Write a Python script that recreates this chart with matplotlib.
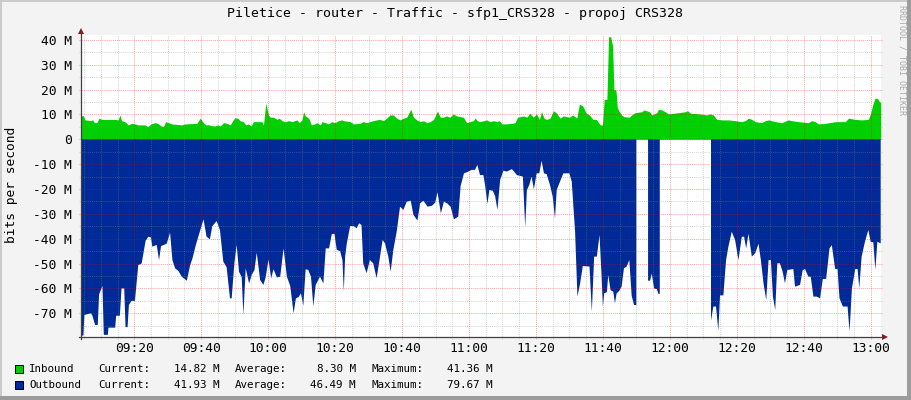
import numpy as np
import matplotlib
matplotlib.use('Agg')
import matplotlib.pyplot as plt
from matplotlib.patches import Rectangle

# ---------------- data (minutes after 09:00, values in Mbit/s) ----------------
in_t = [4.0, 4.8, 5.3, 7.3, 7.5, 8.1, 8.8, 9.5, 10.3, 14.3, 15.2, 15.7, 16.2, 17.2, 18.2, 19.2,
        20.2, 21.2, 23.2, 24.0, 25.0, 26.2, 27.0, 28.0, 28.7, 29.4, 30.2, 31.2, 34.2, 35.2,
        38.7, 39.7, 40.4, 41.4, 42.4, 43.4, 44.2, 45.0, 45.7, 46.7, 47.7, 48.7, 49.4, 50.1,
        50.9, 51.6, 52.6, 53.3, 54.1, 54.9, 55.6, 58.1, 58.6, 59.3, 60.1, 60.6, 61.6, 62.6,
        63.3, 64.1, 65.1, 66.1, 67.1, 68.6, 69.3, 70.1, 70.6, 71.1, 72.1, 72.9, 73.9, 74.6,
        75.6, 76.1, 77.1, 78.0, 79.0, 80.0, 81.0, 82.0, 82.5, 84.5, 85.5, 87.4, 88.4, 89.4,
        90.4, 91.4, 92.4, 93.4, 94.4, 95.4, 96.4, 97.4, 98.4, 99.4, 100.4, 101.4, 102.6,
        103.4, 104.4, 105.4, 106.4, 107.4, 108.4, 109.4, 110.6, 111.4, 112.3, 113.3, 114.3,
        115.3, 116.3, 118.3, 119.3, 120.3, 121.3, 121.8, 122.5, 123.3, 125.3, 126.3, 127.3,
        128.3, 129.1, 129.8, 130.8, 132.8, 133.8, 134.5, 135.3, 136.3, 137.3, 138.2, 139.2,
        140.2, 141.0, 141.7, 142.4, 143.2, 144.2, 145.2, 146.2, 147.2, 148.2, 150.0, 151.0,
        152.2, 153.0, 154.0, 155.0, 156.0, 157.0, 158.0, 159.2, 159.9, 160.4, 161.2, 161.7,
        162.3, 162.9, 163.3, 163.9, 164.3, 164.9, 165.6, 166.3, 167.9, 168.6, 169.6, 171.6,
        172.3, 173.9, 174.6, 176.1, 176.6, 177.6, 178.6, 179.6, 182.6, 184.6, 185.3, 186.1,
        189.0, 191.0, 192.0, 193.0, 194.0, 195.8, 197.5, 199.5, 201.5, 202.5, 203.5, 204.5,
        205.5, 207.5, 208.5, 209.5, 211.5, 213.4, 215.4, 216.4, 218.4, 221.4, 222.4, 223.4,
        224.4, 226.4, 229.4, 232.4, 233.4, 235.4, 237.3, 239.3, 240.0, 240.6, 241.3, 242.0,
        242.6, 243.0]
in_v = [9.5, 9.5, 7.8, 7.5, 8.0, 6.7, 6.7, 8.5, 8.0, 8.0, 7.8, 9.8, 7.5, 7.1, 5.8, 6.4,
        6.2, 5.8, 5.8, 5.1, 6.2, 6.7, 6.4, 5.4, 5.1, 7.1, 6.7, 6.2, 5.8, 6.2,
        6.4, 8.5, 7.1, 5.8, 5.8, 5.4, 5.4, 5.8, 5.4, 6.7, 6.4, 5.8, 7.5, 8.7,
        8.5, 7.5, 7.1, 5.8, 6.2, 5.4, 7.1, 7.1, 5.8, 14.5, 9.8, 8.9, 8.9, 8.0,
        8.5, 7.5, 7.1, 7.5, 7.1, 7.8, 6.7, 7.8, 11.1, 9.4, 8.5, 5.8, 6.2, 6.7,
        5.8, 7.1, 6.7, 6.2, 7.1, 6.7, 7.5, 7.8, 7.5, 7.1, 6.2, 6.4, 7.1, 6.7,
        7.1, 7.5, 7.8, 8.0, 7.5, 8.5, 9.8, 9.8, 8.5, 7.8, 8.5, 8.9, 12.1,
        8.9, 7.8, 7.1, 7.5, 6.7, 7.1, 8.0, 11.4, 8.9, 8.9, 9.4, 8.9,
        10.2, 9.4, 8.9, 6.7, 7.1, 7.5, 8.5, 7.5, 7.1, 7.8, 7.1, 7.5,
        7.1, 7.5, 6.2, 6.2, 6.4, 6.7, 8.9, 9.1, 9.4, 8.9, 10.5, 8.9,
        10.2, 8.0, 11.1, 8.5, 8.0, 8.5, 11.5, 10.5, 8.5, 9.4, 8.9, 9.8,
        8.5, 14.2, 13.4, 10.5, 9.8, 8.0, 8.0, 5.8, 5.8, 16.1, 16.1, 41.3,
        41.3, 37.6, 19.9, 19.9, 12.9, 11.1, 9.8, 9.1, 8.9, 9.8, 10.7, 11.1,
        11.8, 11.1, 9.8, 10.7, 12.1, 11.8, 11.1, 10.2, 10.7, 11.1, 11.5, 10.5,
        10.2, 9.8, 10.2, 9.8, 8.0, 7.8, 7.8, 7.5, 7.1, 7.5, 8.5, 8.0,
        7.1, 6.7, 7.5, 7.8, 7.1, 6.7, 7.8, 7.5, 7.1, 6.7, 7.5, 7.1,
        6.2, 6.4, 7.1, 7.1, 8.5, 8.0, 7.8, 8.0, 10.5, 13.8, 16.5, 16.5,
        15.2, 14.8]

out_t = [4.0, 4.8, 5.1, 7.1, 7.5, 8.3, 9.1, 9.5, 10.5, 10.9, 12.1, 12.3, 14.3, 14.6, 15.7,
         16.2, 17.0, 17.4, 18.0, 18.4, 19.2, 20.2, 21.2, 22.2, 23.4, 24.2, 25.0, 25.4, 26.7,
         27.4, 28.0, 29.7, 30.7, 31.4, 32.2, 33.2, 34.2, 35.7, 36.7, 37.4, 38.4, 39.4, 40.7,
         41.6, 42.6, 43.3, 44.6, 45.6, 46.6, 47.6, 48.6, 49.1, 49.9, 50.6, 51.3, 52.1, 52.6,
         53.3, 54.3, 55.1, 55.9, 56.6, 57.6, 58.6, 59.3, 60.1, 60.9, 61.6, 62.6, 63.6, 64.6,
         65.6, 66.6, 67.6, 68.3, 69.1, 69.8, 70.5, 71.2, 72.0, 72.8, 73.5, 74.2, 75.5, 76.5,
         77.2, 78.2, 79.0, 79.8, 80.5, 81.5, 82.2, 82.6, 83.0, 83.5, 84.5, 85.5, 86.4, 87.2,
         87.9, 88.4, 89.4, 90.4, 91.4, 92.4, 93.2, 94.2, 94.9, 95.9, 96.6, 97.4, 98.4, 99.4,
         100.4, 101.4, 102.6, 103.4, 104.6, 105.4, 106.4, 107.6, 108.9, 109.9, 110.6, 111.6,
         112.5, 113.5, 114.5, 115.5, 116.8, 117.5, 118.5, 119.8, 120.8, 121.8, 122.5, 123.3,
         124.3, 124.8, 125.5, 126.1, 127.1, 127.8, 128.5, 129.3, 130.3, 131.3, 132.8, 133.5,
         134.3, 136.1, 136.8, 137.3, 138.0, 138.7, 139.4, 140.2, 141.0, 141.7, 142.4, 143.2,
         144.2, 145.0, 145.7, 146.2, 147.2, 148.2, 150.0, 150.7, 151.7, 152.4, 153.2, 154.0,
         156.0, 156.7, 157.4, 158.2, 159.0, 159.6, 160.0, 160.4, 161.2, 161.6, 162.3, 163.1,
         163.6, 164.1, 164.9, 165.6, 166.3, 167.1, 167.9, 168.6, 169.3, 170.0, 170.1,
         173.5, 174.1, 174.6, 175.3, 176.1, 176.6, 177.0, 177.1,
         192.3, 193.0, 193.8, 194.5, 195.0, 196.0, 196.8, 197.5, 198.5, 199.5, 200.5, 201.5,
         202.2, 202.8, 203.5, 204.5, 205.5, 206.5, 207.2, 208.0, 208.8, 209.5, 210.2, 210.8,
         211.5, 212.1, 212.9, 213.7, 214.4, 215.1, 216.9, 217.4, 218.9, 219.7, 220.4, 221.4,
         222.1, 222.9, 223.9, 224.9, 225.7, 226.7, 227.7, 228.4, 229.4, 230.1, 230.7, 231.7,
         233.1, 233.7, 234.4, 235.4, 236.1, 236.6, 237.3, 238.3, 239.3, 240.0, 240.8, 241.4,
         242.0, 243.0]
out_v = [79.0, 79.0, 70.7, 70.0, 71.0, 74.7, 74.7, 62.4, 59.0, 78.7, 78.7, 75.8, 75.8, 71.0, 71.0,
         60.0, 60.0, 75.6, 75.6, 66.7, 65.0, 65.0, 50.6, 50.0, 40.8, 39.2, 39.5, 43.2, 42.5,
         48.6, 43.0, 42.0, 37.6, 48.6, 51.9, 53.0, 55.3, 56.9, 50.6, 47.9, 42.5, 38.0, 32.2,
         39.2, 40.2, 35.0, 32.9, 36.5, 49.2, 51.5, 64.0, 64.0, 50.0, 42.5, 53.3, 55.5, 70.7,
         51.9, 58.0, 54.6, 52.6, 45.6, 56.6, 58.6, 55.3, 48.3, 56.0, 52.3, 55.6, 55.3, 43.9,
         55.3, 59.0, 70.0, 64.0, 63.5, 62.0, 67.0, 52.3, 52.6, 55.3, 67.3, 58.6, 55.3, 58.0,
         43.9, 43.9, 38.2, 38.0, 44.5, 45.0, 48.6, 61.3, 47.2, 41.9, 34.9, 34.9, 35.8, 33.8,
         34.5, 49.9, 53.9, 48.6, 49.9, 55.9, 49.2, 40.5, 41.9, 47.2, 53.3, 44.5, 37.2, 27.1,
         28.4, 25.1, 24.7, 30.4, 32.7, 25.8, 24.7, 27.1, 26.8, 25.5, 21.3, 29.8,
         25.1, 25.8, 27.1, 32.2, 31.1, 18.8, 13.7, 13.0, 12.3, 12.3, 10.3, 14.4,
         14.4, 18.4, 26.0, 20.4, 20.7, 22.8, 28.4, 16.4, 12.6, 13.0, 12.0, 13.0,
         14.4, 15.0, 35.4, 20.4, 18.4, 15.0, 20.1, 13.7, 13.7, 8.6, 13.7, 14.0,
         18.4, 23.0, 31.8, 20.4, 17.0, 13.7, 13.7, 17.0, 37.2, 63.3, 58.0, 51.0,
         51.2, 69.3, 47.2, 47.2, 38.5, 54.6, 67.3, 62.0, 61.5, 54.6, 60.7, 61.3,
         66.0, 62.0, 61.0, 59.3, 51.9, 51.2, 48.6, 62.9, 66.7, 66.7, np.nan,
         56.9, 56.9, 54.0, 60.0, 60.3, 62.2, 62.2, np.nan,
         73.0, 67.3, 67.3, 77.0, 62.8, 62.8, 48.6, 43.2, 37.2, 40.5, 48.6, 39.2,
         39.2, 43.9, 38.0, 47.2, 45.9, 42.0, 48.6, 58.0, 64.7, 48.6, 48.6, 63.3,
         68.7, 49.9, 49.9, 53.3, 58.0, 52.6, 52.2, 59.3, 58.6, 52.6, 52.2, 55.3,
         55.3, 63.3, 63.3, 64.0, 56.2, 56.2, 43.9, 42.6, 52.2, 52.2, 64.0, 67.3,
         67.3, 77.4, 60.0, 52.2, 52.2, 60.0, 47.2, 41.2, 36.5, 41.2, 41.5, 52.6,
         41.2, 41.9]

x_major = [20, 40, 60, 80, 100, 120, 140, 160, 180, 200, 220, 240]
x_labels = ["09:20", "09:40", "10:00", "10:20", "10:40", "11:00", "11:20", "11:40",
            "12:00", "12:20", "12:40", "13:00"]
y_major = [-70, -60, -50, -40, -30, -20, -10, 0, 10, 20, 30, 40]
y_labels = ["-70 M", "-60 M", "-50 M", "-40 M", "-30 M", "-20 M", "-10 M", "0",
            "10 M", "20 M", "30 M", "40 M"]

series_names = ["Inbound", "Outbound"]
current = ["14.82 M", "41.93 M"]
average = ["8.30 M", "46.49 M"]
maximum = ["41.36 M", "79.67 M"]

title = "Piletice - router - Traffic - sfp1_CRS328 - propoj CRS328"

# ---------------- drawing ----------------
W, H = 911, 400
GREEN = '#00CF00'
BLUE = '#002A97'
MONO = 'DejaVu Sans Mono'

fig = plt.figure(figsize=(W / 100, H / 100), dpi=100, facecolor='#F3F3F3')

# frame shading
fig.add_artist(Rectangle((0, 0), 2 / W, 1, transform=fig.transFigure, fc='#CBCBCB', lw=0))
fig.add_artist(Rectangle((0, 1 - 2 / H), 1, 2 / H, transform=fig.transFigure, fc='#CBCBCB', lw=0))
fig.add_artist(Rectangle((1 - 4 / W, 0), 4 / W, 1, transform=fig.transFigure, fc='#9C9C9C', lw=0))
fig.add_artist(Rectangle((0, 0), 1, 4 / H, transform=fig.transFigure, fc='#9C9C9C', lw=0))

L, R, T, B = 80.7, 880.7, 35.0, 337.0
ax = fig.add_axes([L / W, 1 - B / H, (R - L) / W, (B - T) / H])
ax.set_facecolor('white')
x0, x1 = 4.0, 243.0
y0, y1 = -79.56, 41.97
ax.set_xlim(x0, x1)
ax.set_ylim(y0, y1)
for s in ax.spines.values():
    s.set_visible(False)

in_t_a = np.array(in_t)
in_v_a = np.array(in_v)
out_t_a = np.array(out_t)
out_v_a = -np.array(out_v, dtype=float)
ax.fill_between(in_t_a, 0, in_v_a, color=GREEN, lw=0, zorder=1)
ax.fill_between(out_t_a, 0, out_v_a, color=BLUE, lw=0, zorder=1)

dx = (x1 - x0) / (R - L)  # data per pixel
dy = (y1 - y0) / (B - T)
dash = (0, (1.0, 1.0))
minor_c = (0.55, 0.55, 0.55, 0.35)
major_c = (1.0, 0.0, 0.0, 0.35)
for xm in range(5, 243, 5):
    c = major_c if xm in x_major else minor_c
    ax.plot([xm, xm], [y0 - 2 * dy, y1], color=c, lw=0.75, ls=dash, clip_on=False, zorder=2)
for ym in range(-75, 45, 5):
    c = major_c if ym in y_major else minor_c
    ax.plot([x0 - 2 * dx, x1 + 2 * dx], [ym, ym], color=c, lw=0.75, ls=dash, clip_on=False, zorder=2)

# axes lines + arrows
ax.plot([x0, x0], [y0 - 2 * dy, y1 + 3 * dy], color='#404040', lw=0.9, clip_on=False, zorder=3)
ax.plot([x0 - 2 * dx, x1 + 4 * dx], [y0, y0], color='#404040', lw=0.9, clip_on=False, zorder=3)
ax.plot([x0], [y1 + 4 * dy], marker='^', ms=4.5, color='#7F1F1F', mew=0, clip_on=False, zorder=4)
ax.plot([x1 + 4.5 * dx], [y0], marker='>', ms=4.5, color='#7F1F1F', mew=0, clip_on=False, zorder=4)

ax.set_xticks(x_major)
ax.set_xticklabels(x_labels, family=MONO, fontsize=9.3)
ax.set_yticks(y_major)
ax.set_yticklabels(y_labels, family=MONO, fontsize=9.3)
ax.tick_params(axis='both', length=0)
ax.tick_params(axis='x', pad=3.8)
ax.tick_params(axis='y', pad=6.3)

# texts
fig.text(455 / W, 1 - 14 / H, title, ha='center', va='center', family=MONO, fontsize=9.5)
fig.text(12 / W, 1 - 185 / H, 'bits per second', rotation=90, ha='center', va='center',
         family=MONO, fontsize=9.3)
fig.text(902 / W, 1 - 5 / H, 'RRDTOOL / TOBI OETIKER', rotation=-90, ha='center', va='top',
         family=MONO, fontsize=6.0, color='#A8A8A8')

rows_y = [369.0, 384.5]
colors = [GREEN, BLUE]
for i in range(2):
    yy = 1 - rows_y[i] / H
    fig.add_artist(Rectangle((15 / W, 1 - (rows_y[i] + 4) / H), 8 / W, 8 / H,
                             transform=fig.transFigure, fc=colors[i], ec='black', lw=0.7))
    kw = dict(va='center', family=MONO, fontsize=7.8)
    fig.text(29.3 / W, yy, series_names[i], ha='left', **kw)
    fig.text(98.3 / W, yy, 'Current:', ha='left', **kw)
    fig.text(219.5 / W, yy, current[i], ha='right', **kw)
    fig.text(235.0 / W, yy, 'Average:', ha='left', **kw)
    fig.text(356.0 / W, yy, average[i], ha='right', **kw)
    fig.text(371.7 / W, yy, 'Maximum:', ha='left', **kw)
    fig.text(492.7 / W, yy, maximum[i], ha='right', **kw)

fig.savefig('out.png', dpi=100, facecolor=fig.get_facecolor())
